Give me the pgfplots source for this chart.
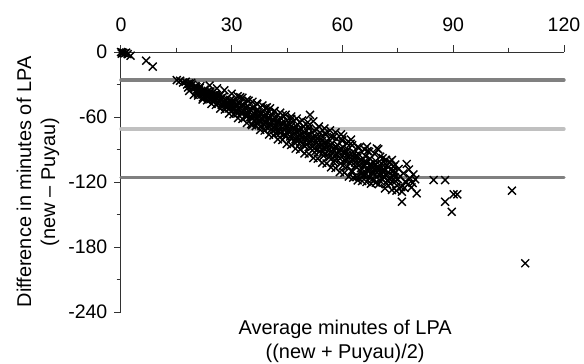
\documentclass[border=0pt]{standalone}
\usepackage{fontspec}
\setmainfont{Liberation Sans}
\usepackage{pgfplots}
\usepackage{pgfplotstable}
\pgfplotsset{compat=1.18}
\definecolor{dgray}{RGB}{128,128,128}
\definecolor{lgray}{RGB}{192,192,192}
\definecolor{axgray}{RGB}{50,50,50}
\pgfplotstableread{
x y
0 0
0.3 -0.4
0.6 -0.8
1.0 -1.2
0.2 -1.5
1.4 -0.6
1.8 -2.0
2.6 -3.4
6.8 -8.0
8.6 -13.5
15.1 -25.9
16.0 -26.5
16.8 -28.2
17.5 -27.4
17.9 -30.1
18.4 -29.0
18.9 -31.5
19.3 -30.2
19.8 -33.0
20.2 -31.4
20.6 -34.6
20.9 -36.8
21.3 -33.2
21.7 -35.9
22.0 -38.8
22.2 -42.0
22.6 -34.8
22.9 -37.5
23.3 -40.6
23.6 -36.2
24.0 -39.1
24.3 -43.4
24.7 -37.8
25.0 -41.2
25.3 -45.0
25.6 -38.9
26.0 -42.7
26.3 -47.1
26.6 -40.3
27.0 -44.2
27.3 -48.8
27.6 -41.5
28.0 -45.6
28.3 -50.4
28.6 -43.0
29.0 -47.2
29.3 -52.1
29.6 -44.1
30.0 -48.5
30.3 -53.6
30.6 -45.3
31.0 -50.0
31.3 -55.2
31.6 -40.8
32.0 -47.1
32.3 -51.6
32.6 -56.8
32.9 -42.2
33.2 -48.9
33.5 -53.4
33.8 -58.3
34.1 -44.3
34.4 -50.2
34.7 -55.1
35.0 -60.0
35.3 -66.5
35.6 -46.0
35.9 -51.8
36.2 -57.0
36.5 -62.0
36.8 -47.5
37.1 -53.4
37.4 -58.6
37.7 -63.8
38.0 -68.5
38.3 -49.3
38.6 -55.0
38.9 -60.2
39.2 -65.4
39.5 -51.0
39.8 -56.6
40.1 -61.9
40.4 -52.0
40.4 -67.2
40.7 -71.5
41.0 -58.2
41.3 -63.5
41.6 -54.3
41.9 -68.8
42.2 -59.9
42.5 -65.0
42.8 -73.6
43.1 -56.0
43.4 -61.5
43.7 -70.4
44.0 -66.8
44.3 -75.8
44.6 -57.9
44.9 -63.2
45.2 -68.4
45.5 -72.3
45.8 -78.0
46.1 -59.6
46.4 -65.0
46.7 -70.2
47.0 -74.8
47.3 -80.3
47.6 -61.4
47.9 -67.0
48.2 -72.1
48.5 -77.0
48.8 -82.6
49.1 -63.2
49.4 -68.8
49.7 -74.0
50.0 -79.1
50.3 -85.0
50.6 -65.0
50.9 -70.6
51.2 -58.0
51.2 -76.0
51.5 -81.2
51.8 -87.3
52.1 -64.0
52.4 -72.5
52.7 -78.0
53.0 -83.4
53.3 -89.5
53.6 -68.7
53.9 -74.4
54.2 -80.0
54.5 -85.6
54.8 -91.8
55.1 -70.5
55.4 -76.3
55.7 -82.0
56.0 -87.7
56.3 -94.0
56.6 -72.3
56.9 -78.2
57.2 -84.0
57.5 -89.8
57.8 -96.2
58.1 -74.2
58.4 -80.1
58.7 -86.0
59.0 -91.9
59.3 -98.4
59.6 -76.0
59.9 -82.0
60.2 -78.0
60.2 -88.0
60.5 -94.0
60.8 -100.6
61.1 -84.0
61.4 -90.1
61.7 -96.2
62.0 -102.8
62.3 -80.8
62.6 -86.0
62.9 -92.2
63.2 -98.3
63.5 -105.0
63.8 -115.5
64.1 -88.0
64.4 -94.3
64.7 -100.4
65.0 -107.2
65.3 -112.0
65.7 -113.6
66.0 -90.0
66.6 -87.4
66.3 -96.4
66.6 -102.5
66.9 -109.4
67.2 -92.2
67.5 -98.5
67.8 -104.6
68.1 -111.0
68.4 -112.0
68.7 -94.0
69.0 -100.6
69.3 -89.0
69.7 -89.9
69.6 -106.8
69.9 -113.0
70.2 -96.6
70.5 -102.6
70.8 -108.9
71.1 -115.2
71.5 -125.9
71.8 -99.5
72.1 -104.8
72.4 -110.9
72.7 -117.0
73.0 -121.5
73.4 -99.7
73.4 -127.4
73.8 -105.9
74.0 -112.5
74.4 -119.2
74.8 -123.5
75.2 -108.0
75.6 -114.6
76.1 -129.0
76.1 -138.2
77.0 -119.7
77.4 -103.4
77.8 -122.0
78.3 -116.6
78.7 -125.0
79.2 -113.0
79.7 -117.5
80.1 -130.5
84.7 -118.2
87.8 -118.2
87.8 -138.2
89.6 -147.5
90.1 -131.4
91.1 -131.4
105.9 -128.0
109.5 -195.0
20.4 -32.5
21.1 -35.0
21.8 -37.4
22.4 -36.1
23.0 -39.5
23.8 -38.2
24.5 -40.5
25.2 -43.1
25.8 -40.0
26.5 -44.9
27.1 -42.8
27.8 -46.8
28.4 -44.5
29.1 -49.6
29.8 -46.5
30.4 -51.0
31.1 -48.3
31.8 -52.8
32.5 -49.8
33.1 -54.8
33.7 -51.5
34.4 -57.0
35.1 -53.4
35.8 -59.1
36.4 -55.0
37.0 -61.0
37.6 -56.9
38.2 -62.8
38.8 -58.4
39.4 -64.7
40.0 -60.2
40.6 -66.5
41.2 -62.0
41.8 -68.4
42.4 -63.7
43.0 -70.0
43.6 -65.5
44.2 -71.9
44.8 -67.3
45.4 -73.8
46.0 -69.0
46.6 -75.6
47.2 -71.0
47.8 -77.6
48.4 -72.8
49.0 -79.4
49.6 -74.6
50.2 -81.3
50.8 -76.5
51.4 -83.1
52.0 -78.3
52.6 -85.0
53.2 -80.2
53.8 -86.9
54.4 -82.1
55.0 -88.9
55.6 -84.0
56.2 -90.8
56.8 -86.0
57.4 -92.8
58.0 -88.0
58.6 -94.7
59.2 -90.0
59.8 -96.6
60.4 -91.8
61.0 -98.5
61.6 -93.7
62.2 -100.4
62.8 -95.6
63.4 -102.0
64.0 -97.6
64.6 -104.2
65.2 -99.8
65.8 -106.0
66.4 -101.6
67.0 -107.8
67.6 -103.4
68.2 -109.4
68.8 -105.0
69.4 -111.1
70.0 -106.8
70.6 -112.6
71.2 -108.5
71.8 -114.0
72.4 -106.5
73.0 -116.0
73.6 -109.6
74.2 -115.8
64.9 -110.0
66.2 -113.5
67.4 -115.7
68.6 -117.8
70.3 -119.4
72.0 -121.8
74.6 -128.0
75.9 -124.6
69.8 -122.0
62.5 -109.5
61.2 -106.0
59.5 -103.0
57.9 -99.7
56.5 -97.0
55.2 -94.5
53.7 -92.2
52.3 -89.0
50.9 -87.8
49.3 -85.3
47.7 -82.6
46.2 -79.7
44.7 -77.4
43.2 -74.6
41.7 -71.8
40.2 -69.3
38.7 -66.2
37.2 -63.4
35.7 -61.2
34.2 -58.6
32.7 -55.9
31.2 -53.5
29.7 -50.8
28.2 -48.2
26.7 -45.7
25.2 -43.6
23.7 -41.5
22.1 -39.3
18.5 -35.9
19.7 -39.5
20.9 -40.2
22.1 -43.8
23.3 -44.6
24.5 -47.9
25.7 -48.8
26.9 -52.3
28.1 -53.1
29.3 -56.8
30.5 -57.4
31.7 -61.0
32.9 -61.8
34.1 -65.5
35.5 -67.5
36.5 -68.4
37.7 -71.9
38.9 -72.6
40.1 -76.2
41.3 -77.0
42.5 -80.6
43.7 -81.2
44.9 -84.9
46.1 -85.7
47.3 -89.2
48.5 -90.0
49.7 -93.6
50.9 -94.1
52.1 -97.9
53.3 -98.5
54.5 -102.2
55.7 -102.9
56.9 -106.5
58.1 -107.1
59.3 -110.8
60.5 -111.4
61.7 -115.0
62.9 -115.9
64.1 -118.5
65.3 -119.1
66.5 -120.0
67.7 -121.5
69.0 -120.6
24.0 -31.0
26.0 -33.6
28.0 -35.4
30.0 -38.5
32.3 -41.7
34.6 -45.0
36.9 -48.1
39.2 -51.6
41.5 -54.9
43.8 -58.2
46.1 -61.7
48.4 -64.8
50.7 -68.3
53.0 -71.5
55.3 -74.7
57.6 -78.4
59.9 -81.0
62.2 -84.6
64.5 -88.3
66.8 -91.5
19.0 -28.6
21.5 -31.5
24.2 -36.4
26.9 -39.8
29.6 -44.9
32.1 -47.6
34.8 -52.8
37.3 -55.5
39.9 -60.6
42.6 -63.6
45.1 -68.7
47.9 -71.7
50.4 -76.8
53.1 -79.5
55.8 -85.0
58.3 -87.6
60.9 -92.9
63.6 -95.6
66.1 -100.8
68.9 -103.7
71.4 -108.9
18.2 -32.8
20.8 -38.4
23.5 -41.8
26.1 -47.5
28.8 -50.9
31.5 -56.8
34.0 -59.9
36.7 -65.7
39.3 -69.0
41.9 -74.7
44.5 -77.9
47.0 -83.4
49.8 -87.1
52.4 -92.7
54.9 -95.8
57.6 -101.7
60.1 -104.8
62.7 -110.4
65.4 -113.9
67.9 -118.0
70.9 -98.0
71.6 -103.2
72.8 -101.5
73.9 -110.0
75.0 -117.5
76.5 -112.0
77.2 -120.5
78.0 -108.5
74.3 -104.0
72.3 -118.5
70.6 -116.8
76.8 -125.5
79.0 -121.0
}\datatable
\begin{document}
\begin{tikzpicture}
\path[use as bounding box] (-60.5bp,-26bp) rectangle (231.5bp,156bp);
\begin{axis}[
  at={(0,0)}, anchor=south west,
  scale only axis, width=221.5bp, height=130bp,
  xmin=0, xmax=120, ymin=-240, ymax=0,
  axis x line=top, axis y line=left,
  axis line style={-, line width=0.5bp, axgray},
  xtick={0,30,60,90,120}, ytick={-240,-180,-120,-60,0},
  minor xtick={15,45,75,105}, minor ytick={-210,-150,-90,-30},
  tick align=outside,
  major tick length=3.3bp, minor tick length=2.2bp,
  every tick/.style={line width=0.5bp, axgray},
  ticklabel style={font=\fontsize{9.8}{11}\selectfont},
  xticklabel style={yshift=3.5bp},
  /pgf/number format/assume math mode=true,
  clip=false,
  xlabel={Average minutes of LPA\\((new + Puyau)/2)},
  xlabel style={at={(axis description cs:0.506,-0.031)}, anchor=north, align=center, inner sep=0pt, font=\fontsize{10}{12}\selectfont},
  ylabel={Difference in minutes of LPA\\(new – Puyau)},
  ylabel style={at={(axis description cs:-0.1874,0.5)}, anchor=center, align=center, inner sep=0pt, font=\fontsize{10}{12}\selectfont},
]
\addplot[line width=1.7bp, color=dgray, line cap=round, forget plot] coordinates {(0,-25.9) (120,-25.9)};
\addplot[line width=1.7bp, color=lgray, line cap=round, forget plot] coordinates {(0,-71.0) (120,-71.0)};
\addplot[line width=1.7bp, color=dgray, line cap=round, forget plot] coordinates {(0,-115.6) (120,-115.6)};
\addplot[only marks, mark=x, mark size=2.8bp, mark options={line width=0.7bp, black}] table[x=x, y=y] {\datatable};
\end{axis}
\end{tikzpicture}
\end{document}
